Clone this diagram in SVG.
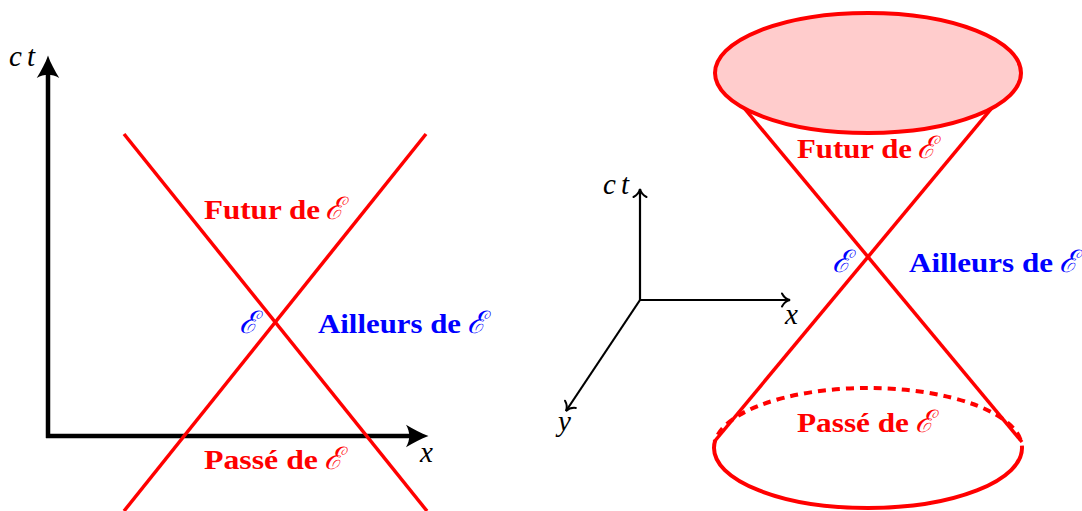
<svg xmlns="http://www.w3.org/2000/svg" width="1082" height="511" viewBox="0 0 1082 511">
<style>
.lbl{font-family:"Liberation Serif","DejaVu Serif",serif;font-weight:bold;font-size:28px}
.red{fill:#ff0000}
.blue{fill:#0000ff}
.scr{font-family:"DejaVu Serif","Liberation Serif",serif;font-style:italic;font-weight:normal;font-size:31px}
.math{font-family:"Liberation Serif","DejaVu Serif",serif;font-style:italic;font-size:29px;fill:#000}
.cone{stroke:#ff0000;stroke-width:3.5;fill:none}
.ax1{stroke:#000;stroke-width:4.5;fill:none}
.ax2{stroke:#000;stroke-width:2.2;fill:none}
</style>
<defs>
<marker id="big" markerUnits="userSpaceOnUse" markerWidth="30" markerHeight="30" viewBox="-12 -12 24 24" refX="0" refY="0" orient="auto" overflow="visible">
<path d="M10,0 C4,-2 -2,-5.5 -8,-9 C-4.5,-3 -4.5,3 -8,9 C-2,5.5 4,2 10,0 Z" fill="#000"/>
</marker>
<marker id="small" markerUnits="userSpaceOnUse" markerWidth="20" markerHeight="20" viewBox="-12 -10 20 20" refX="0" refY="0" orient="auto" overflow="visible">
<path d="M-8,-6.5 C-6,-2.5 -2.5,-0.6 0,0 C-2.5,0.6 -6,2.5 -8,6.5" fill="none" stroke="#000" stroke-width="2" stroke-linecap="round"/>
</marker>
</defs>
<rect width="1082" height="511" fill="#fff"/>

<g id="connectors">
<!-- left panel axes -->
<line class="ax1" x1="48" y1="438" x2="48" y2="68" marker-end="url(#big)"/>
<line class="ax1" x1="46" y1="436" x2="416" y2="436" marker-end="url(#big)"/>
<!-- left light cone -->
<line class="cone" x1="124" y1="134" x2="427" y2="511"/>
<line class="cone" x1="426" y1="134" x2="124" y2="511"/>
<!-- right panel axes -->
<line class="ax2" x1="640" y1="300" x2="640" y2="189" marker-end="url(#small)"/>
<line class="ax2" x1="639" y1="300" x2="790" y2="300" marker-end="url(#small)"/>
<line class="ax2" x1="640" y1="300" x2="566" y2="411" marker-end="url(#small)"/>
<!-- right cone -->
<line class="cone" x1="714" y1="442" x2="1021" y2="73"/>
<line class="cone" x1="1022" y1="442" x2="715" y2="73"/>
</g>

<g id="future-disc">
<ellipse cx="868" cy="73" rx="153" ry="60" fill="#ffcccc" stroke="#ff0000" stroke-width="4"/>
</g>
<g id="past-disc">
<path d="M714,448 A154,60 0 0 1 1022,448" fill="none" stroke="#ff0000" stroke-width="4" stroke-dasharray="8 6"/>
<path d="M1022,448 A154,60 0 0 1 714,448" fill="none" stroke="#ff0000" stroke-width="4"/>
</g>

<g id="left-labels">
<text class="math" x="9" y="66" textLength="26" lengthAdjust="spacing">ct</text>
<text class="math" x="420" y="462">x</text>
<g id="L-futur"><text class="lbl red" x="204" y="219" textLength="116" lengthAdjust="spacingAndGlyphs">Futur de</text><text class="scr red" x="325" y="219">ℰ</text></g>
<g id="L-event"><text class="scr blue" x="239" y="333">ℰ</text></g>
<g id="L-ailleurs"><text class="lbl blue" x="318" y="333" textLength="143" lengthAdjust="spacingAndGlyphs">Ailleurs de</text><text class="scr blue" x="467" y="333">ℰ</text></g>
<g id="L-passe"><text class="lbl red" x="204" y="469" textLength="114" lengthAdjust="spacingAndGlyphs">Passé de</text><text class="scr red" x="324" y="469">ℰ</text></g>
</g>

<g id="right-labels">
<text class="math" x="603" y="194" textLength="26" lengthAdjust="spacing">ct</text>
<text class="math" x="785" y="324">x</text>
<text class="math" x="558" y="431">y</text>
<g id="R-futur"><text class="lbl red" x="797" y="158" textLength="115" lengthAdjust="spacingAndGlyphs">Futur de</text><text class="scr red" x="917" y="158">ℰ</text></g>
<g id="R-event"><text class="scr blue" x="832" y="272">ℰ</text></g>
<g id="R-ailleurs"><text class="lbl blue" x="909" y="272" textLength="144" lengthAdjust="spacingAndGlyphs">Ailleurs de</text><text class="scr blue" x="1059" y="272">ℰ</text></g>
<g id="R-passe"><text class="lbl red" x="797" y="432" textLength="112" lengthAdjust="spacingAndGlyphs">Passé de</text><text class="scr red" x="915" y="432">ℰ</text></g>
</g>
</svg>
